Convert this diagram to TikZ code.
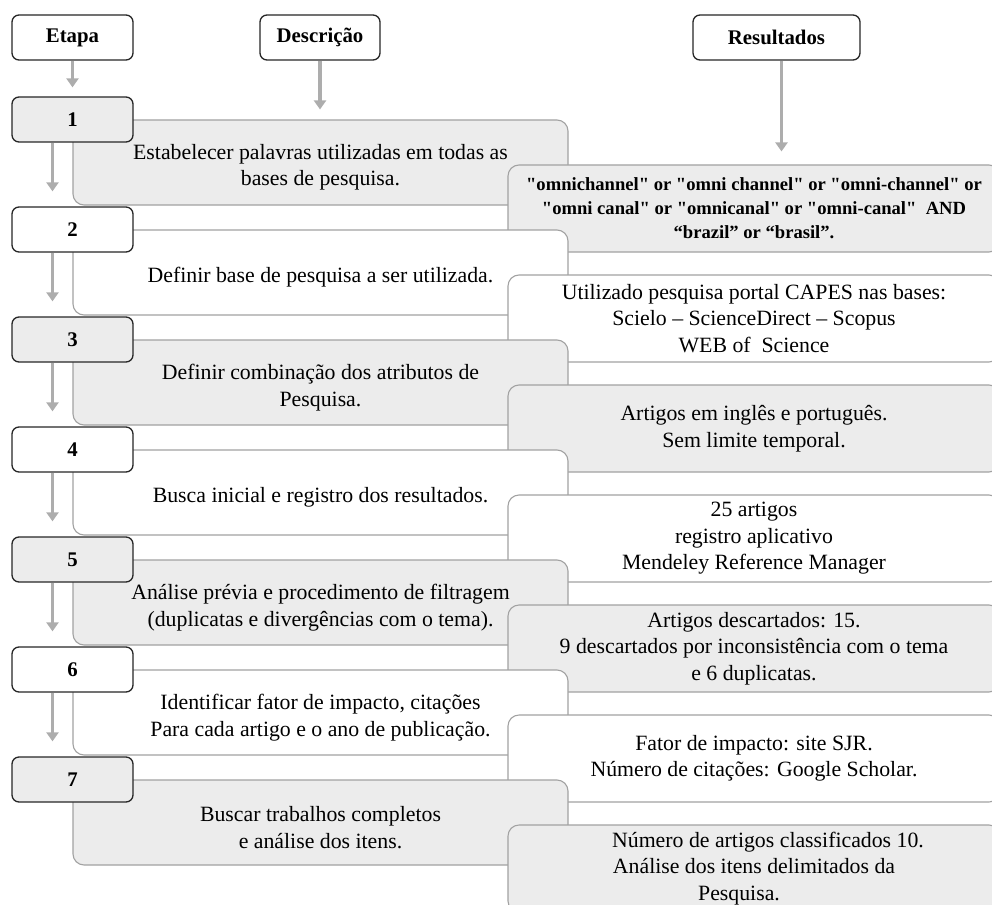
\documentclass[tikz,border=0pt]{standalone}
\usepackage{fontspec}
\setmainfont{Liberation Serif}[Ligatures=TeXOff]
\usepackage{xcolor}
\usetikzlibrary{arrows.meta,calc}
\definecolor{stepfill}{HTML}{ECECEC}
\definecolor{edgegray}{HTML}{A2A2A2}
\definecolor{arrowgray}{HTML}{ADADAD}

\begin{document}
\begin{tikzpicture}[x=1pt, y=-1pt,
    headbox/.style={draw=black!85, line width=1.3pt, rounded corners=7pt, fill=white,
      minimum height=45pt, inner sep=0pt, font=\fontsize{20.8}{24}\selectfont\bfseries},
    numbox/.style={headbox, minimum width=121pt},
    panel/.style={draw=edgegray, line width=1.1pt, rounded corners=11pt,
      minimum width=495pt, minimum height=85pt, inner sep=0pt},
    paneltext/.style={align=center, inner sep=0pt, font=\fontsize{21.8}{26.5}\selectfont},
    resbox/.style={panel, align=center, minimum width=492pt, minimum height=87pt},
    resplain/.style={font=\fontsize{21.8}{26.5}\selectfont},
    resbold/.style={font=\fontsize{18.6}{24}\selectfont\bfseries},
    flow/.style={-{Triangle[width=12pt,length=9pt]}, draw=arrowgray, line width=3.5pt}]
  \useasboundingbox (0,0) rectangle (992,904);
  \clip (0,0) rectangle (992,904);
  \node[headbox, minimum width=121pt] (etapa) at (72.5,37.5) {Etapa};
  \node[headbox, minimum width=120pt] (descr) at (320,37.5) {Descrição};
  \node[headbox, minimum width=167pt] (result) at (776.5,37.5) {Resultados};
  % one row per step: panel, number, result
  \foreach \k/\fc/\rs/\desc/\res in {
    1/stepfill/resbold/{Estabelecer palavras utilizadas em todas as\\bases de pesquisa.}/{"omnichannel" or "omni channel" or "omni-channel" or\\"omni canal" or "omnicanal" or "omni-canal"~~AND\\“brazil” or “brasil”.},
    2/white/resplain/{Definir base de pesquisa a ser utilizada.}/{Utilizado pesquisa portal CAPES nas bases:\\Scielo – ScienceDirect – Scopus\\WEB of~~Science},
    3/stepfill/resplain/{Definir combinação dos atributos de\\Pesquisa.}/{Artigos em inglês e português.\\Sem limite temporal.},
    4/white/resplain/{Busca inicial e registro dos resultados.}/{25 artigos\\registro aplicativo\\Mendeley Reference Manager},
    5/stepfill/resplain/{Análise prévia e procedimento de filtragem\\(duplicatas e divergências com o tema).}/{Artigos descartados: 15.\\9 descartados por inconsistência com o tema\\e 6 duplicatas.},
    6/white/resplain/{Identificar fator de impacto, citações\\Para cada artigo e o ano de publicação.}/{Fator de impacto: site SJR.\\Número de citações: Google Scholar.},
    7/stepfill/resplain/{Buscar trabalhos completos\\e análise dos itens.}/{\hspace*{28pt}Número de artigos classificados 10.\\Análise dos itens delimitados da\\Pesquisa.\hspace*{30pt}}%
  } {
    \pgfmathsetmacro{\dy}{110*(\k-1)}
    \node[panel, fill=\fc] (d\k) at (320.5,162.5+\dy) {};
    \node[paneltext] (dt\k) at ([yshift=-5pt]d\k.center) {\desc};
    \node[numbox, fill=\fc] (n\k) at (72.5,119.5+\dy) {\k};
    \node[resbox, \rs, fill=\fc] (r\k) at (754,208.5+\dy) {\res};
  }
  \foreach \k [evaluate=\k as \nx using int(\k+1)] in {1,...,6}
    \draw[flow, shorten >=15pt] ([xshift=-20pt]n\k.south) -- ([xshift=-20pt]n\nx.north);
  \draw[flow, shorten >=9pt] (etapa) -- (n1);
  \draw[flow, shorten >=10pt] (descr.south) -- (descr.south |- d1.north);
  \draw[flow, shorten >=13pt] ([xshift=5pt]result.south) -- ([xshift=5pt]result.south |- r1.north);
\end{tikzpicture}
\end{document}
